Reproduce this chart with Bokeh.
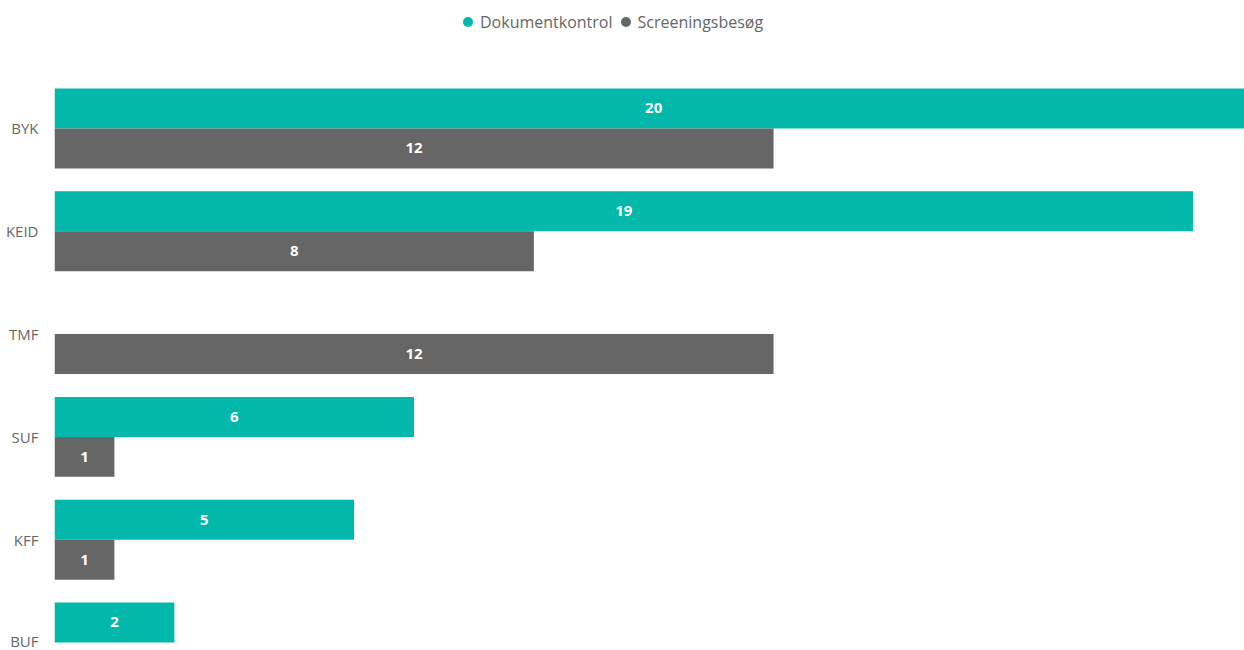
from bokeh.plotting import figure
from bokeh.models import ColumnDataSource, Range1d, FixedTicker, Legend, LegendItem
from bokeh.core.properties import value
from bokeh.embed import file_html
from bokeh.resources import INLINE

categories = ["BYK", "KEID", "TMF", "SUF", "KFF", "BUF"]
dokumentkontrol = [20, 19, None, 6, 5, 2]
screeningsbesoeg = [12, 8, 12, 1, 1, None]
series_names = ["Dokumentkontrol", "Screeningsbesøg"]
colors = ["#01B8AA", "#666666"]

FONT = "Open Sans"
BAR_H = 0.389

p = figure(width=1244, height=650, output_backend="svg", toolbar_location=None,
           x_range=Range1d(0, 19.86), y_range=Range1d(-5.078, 1.245),
           min_border_left=54, min_border_right=0, min_border_top=0, min_border_bottom=0)

positions = [-i for i in range(len(categories))]

renderers = []
for k, (vals, offset) in enumerate([(dokumentkontrol, BAR_H / 2), (screeningsbesoeg, -BAR_H / 2)]):
    ys, xs, labels = [], [], []
    for pos, v in zip(positions, vals):
        if v is None:
            continue
        ys.append(pos + offset)
        xs.append(v)
        labels.append(str(v))
    src = ColumnDataSource(dict(y=ys, right=xs, mid=[x / 2 for x in xs], label=labels))
    p.hbar(y="y", left=0, right="right", height=BAR_H, source=src,
           fill_color=colors[k], line_color=None)
    p.text(x="mid", y="y", text="label", source=src, text_color="white",
           text_font=value(FONT), text_font_size="15px", text_font_style="bold",
           text_align="center", text_baseline="middle")
    r = p.scatter(x=[float("nan")], y=[float("nan")], marker="circle", size=10,
                  fill_color=colors[k], line_color=None)
    renderers.append(r)

legend = Legend(items=[LegendItem(label=series_names[i], renderers=[renderers[i]]) for i in range(2)],
                orientation="horizontal", location=(401, 616),
                glyph_width=25, glyph_height=25, label_height=20, label_standoff=0,
                spacing=0, padding=4, margin=0, border_line_color=None,
                background_fill_alpha=0,
                label_text_font=FONT, label_text_font_size="16px", label_text_color="#666666")
p.add_layout(legend)

p.xaxis.visible = False
p.yaxis.ticker = FixedTicker(ticks=positions)
p.yaxis.major_label_overrides = {pos: c for pos, c in zip(positions, categories)}
p.yaxis.axis_line_color = None
p.yaxis.major_tick_line_color = None
p.yaxis.minor_tick_line_color = None
p.yaxis.major_label_text_font = FONT
p.yaxis.major_label_text_font_size = "15px"
p.yaxis.major_label_text_color = "#666666"
p.yaxis.major_label_standoff = 10
p.xgrid.visible = False
p.ygrid.visible = False
p.outline_line_color = None

open("out.html", "w").write(file_html(p, INLINE))
